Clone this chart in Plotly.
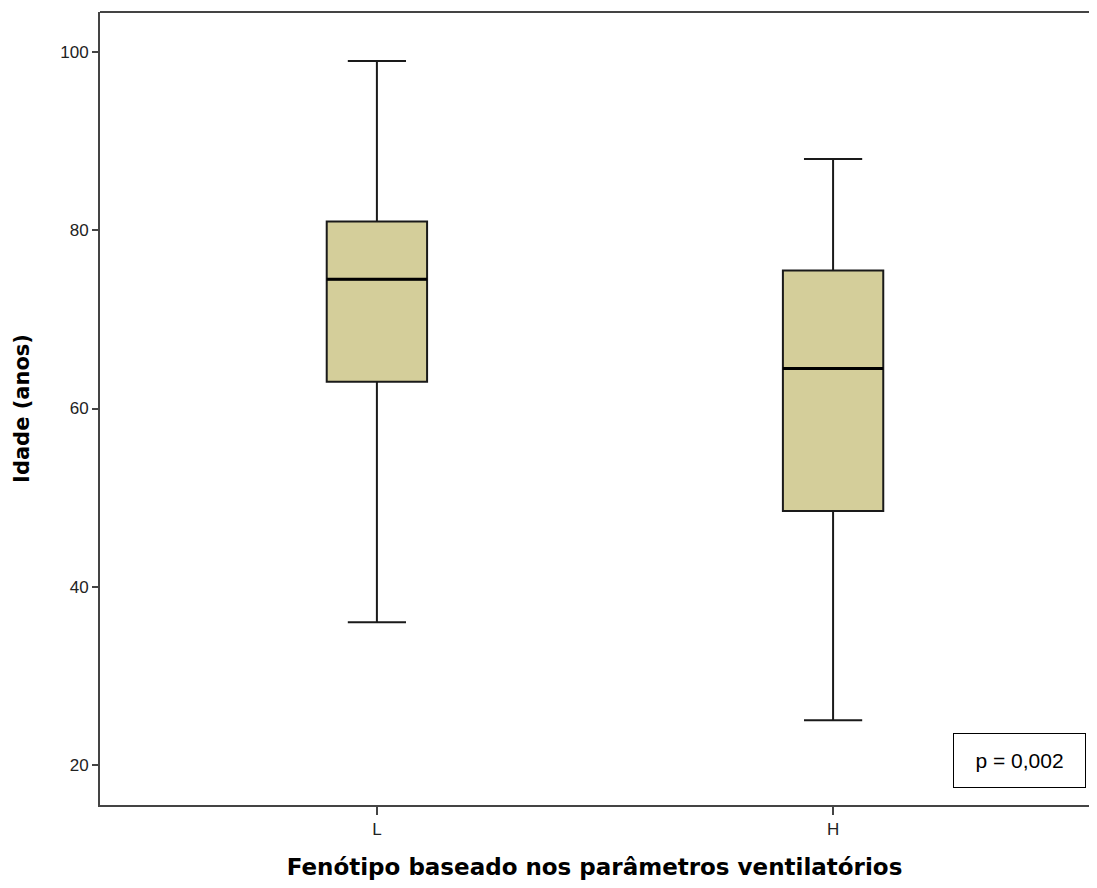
import plotly.graph_objects as go

categories = ["L", "H"]
positions = [0, 1]
lower_whisker = [36, 25]
q1 = [63, 48.5]
median = [74.5, 64.5]
q3 = [81, 75.5]
upper_whisker = [99, 88]
y_ticks = [20, 40, 60, 80, 100]

fig = go.Figure()
box_w = 0.22
for i, cat in enumerate(categories):
    fig.add_trace(go.Box(
        x=[positions[i]], q1=[q1[i]], median=[median[i]], q3=[q3[i]],
        lowerfence=[lower_whisker[i]], upperfence=[upper_whisker[i]],
        name=cat, width=box_w, whiskerwidth=0.58,
        fillcolor="#D4CE9A", line=dict(color="#1a1a1a", width=2),
        boxpoints=False, hoverinfo="skip", showlegend=False,
    ))
    fig.add_trace(go.Scatter(
        x=[positions[i] - box_w / 2, positions[i] + box_w / 2],
        y=[median[i], median[i]], mode="lines",
        line=dict(color="black", width=3), showlegend=False, hoverinfo="skip",
    ))

title_font = "DejaVu Sans, Verdana, sans-serif"
fig.update_layout(
    width=1081, height=872,
    margin=dict(l=92, r=0, t=4, b=75),
    plot_bgcolor="white", paper_bgcolor="white",
    font=dict(family="Arial, Liberation Sans, sans-serif", color="black"),
    xaxis=dict(
        range=[-0.607, 1.561], tickvals=positions, ticktext=categories,
        showgrid=False, zeroline=False, showline=True, linecolor="#444444", linewidth=2,
        ticks="outside", ticklen=8, tickwidth=2, tickcolor="#444444",
        tickfont=dict(size=17, color="#222222"), automargin=False,
        title=dict(text="<b>Fenótipo baseado nos parâmetros ventilatórios</b>",
                   font=dict(size=23, family=title_font, color="black"), standoff=27),
    ),
    yaxis=dict(
        range=[15.5, 104.5], tickvals=y_ticks,
        showgrid=False, zeroline=False, showline=True, linecolor="#444444", linewidth=2,
        ticks="outside", ticklen=6, tickwidth=2, tickcolor="#444444",
        tickfont=dict(size=17, color="#222222"), automargin=False,
        title=dict(text="<b>Idade (anos)</b>",
                   font=dict(size=21, family=title_font, color="black"), standoff=25),
    ),
    shapes=[dict(type="line", xref="paper", yref="paper", x0=0, x1=1, y0=1, y1=1,
                 line=dict(color="#444444", width=2))],
    annotations=[dict(
        text="p = 0,002", xref="paper", yref="paper", x=0.930, y=0.056,
        xanchor="center", yanchor="middle",
        showarrow=False, font=dict(size=21, color="black"),
        bordercolor="black", borderwidth=1, borderpad=0, width=131, height=53,
        bgcolor="white",
    )],
)

fig.write_html("out.html")
